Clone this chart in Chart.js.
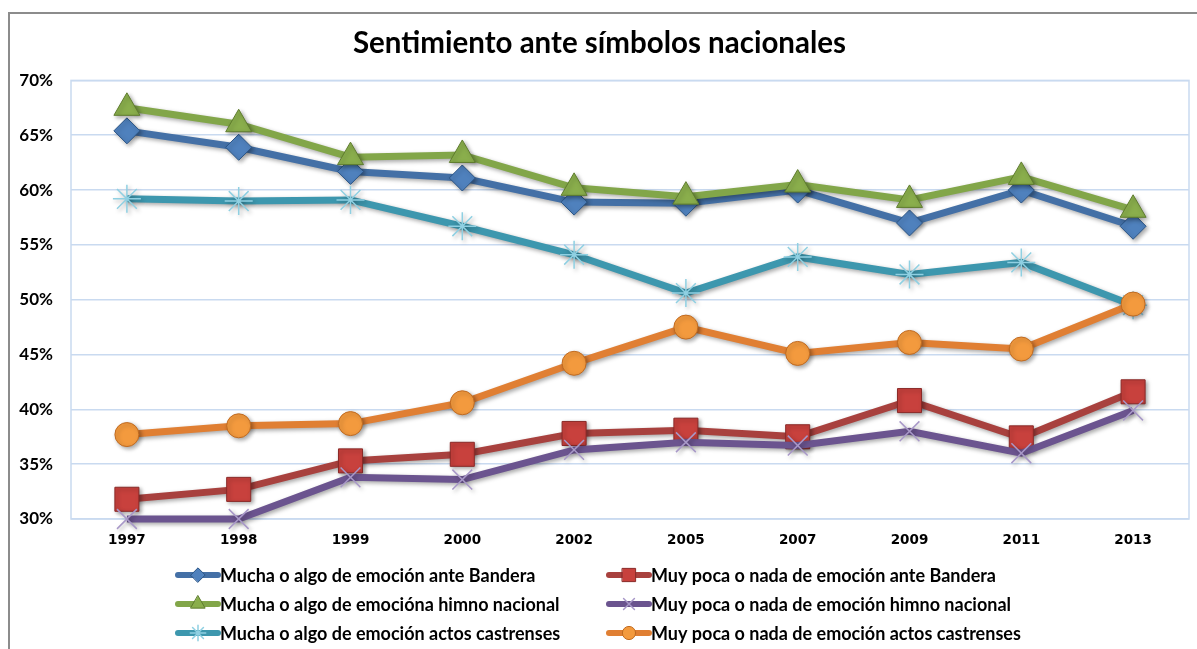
<!DOCTYPE html>
<html><head><meta charset="utf-8">
<script src="https://cdn.jsdelivr.net/npm/chart.js@4.4.1/dist/chart.umd.min.js"></script>
<style>
html,body{margin:0;padding:0;background:#fff;}
#wrap{position:relative;width:1197px;height:649px;overflow:hidden;}
#frame{position:absolute;left:8px;top:12px;width:1300px;height:800px;border-left:2px solid #8c8c8c;border-top:2px solid #8c8c8c;}
canvas{position:absolute;left:0;top:0;}
</style></head><body>
<div id="wrap"><div id="frame"></div><canvas id="c" width="1207" height="649"></canvas></div>
<script>
const years = ['1997','1998','1999','2000','2002','2005','2007','2009','2011','2013'];
const banderaMucha     = [65.4, 63.9, 61.7, 61.1, 58.9, 58.8, 60.0, 57.0, 60.0, 56.7];
const banderaPoca      = [31.8, 32.7, 35.3, 35.9, 37.8, 38.1, 37.5, 40.8, 37.4, 41.6];
const himnoMucha       = [67.5, 66.0, 63.0, 63.2, 60.2, 59.4, 60.5, 59.1, 61.2, 58.2];
const himnoPoca        = [30.0, 30.0, 33.8, 33.6, 36.3, 37.0, 36.7, 38.0, 36.0, 39.9];
const castrensesMucha  = [59.2, 59.0, 59.1, 56.7, 54.1, 50.6, 53.9, 52.3, 53.4, 49.5];
const castrensesPoca   = [37.7, 38.5, 38.7, 40.6, 44.2, 47.5, 45.1, 46.1, 45.5, 49.6];
const seriesLabels = [
  'Mucha o algo de emoción ante Bandera',
  'Muy poca o nada de emoción ante Bandera',
  'Mucha o algo de emocióna himno nacional',
  'Muy poca o nada de emoción himno nacional',
  'Mucha o algo de emoción actos castrenses',
  'Muy poca o nada de emoción actos castrenses'
];
const yTicks = [30, 35, 40, 45, 50, 55, 60, 65, 70];

function ds(label, data, line, style, radius, bg, border, bw, order) {
  return {
    label, data, borderColor: line, backgroundColor: line, borderWidth: 7,
    pointStyle: style, pointRadius: radius, pointHoverRadius: radius,
    pointBackgroundColor: bg, pointBorderColor: border, pointBorderWidth: bw,
    tension: 0, fill: false, clip: false, order
  };
}

const datasets = [
  ds(seriesLabels[0], banderaMucha, '#4470a6', 'rectRot', 13, '#4f81bd', '#2b5586', 1, 6),
  ds(seriesLabels[1], banderaPoca, '#a8413e', 'rect', 17, '#c8413d', '#8a2a28', 1, 5),
  ds(seriesLabels[2], himnoMucha, '#82a649', 'triangle', 15, '#8aae4c', '#5f7d2e', 1, 4),
  ds(seriesLabels[3], himnoPoca, '#6b548f', 'crossRot', 14, 'rgba(0,0,0,0)', '#a898c8', 1.5, 3),
  ds(seriesLabels[4], castrensesMucha, '#3d97ae', 'star', 14, 'rgba(0,0,0,0)', '#8fd0e2', 1.5, 2),
  ds(seriesLabels[5], castrensesPoca, '#e07f33', 'circle', 12, '#f39a3e', '#c06a20', 1, 1)
];

const gridColor = '#c9daf0';

const shadowPlugin = {
  id: 'shadow',
  beforeDatasetDraw(chart) {
    const ctx = chart.ctx; ctx.save();
    ctx.shadowColor = 'rgba(0,0,0,0.35)'; ctx.shadowBlur = 4; ctx.shadowOffsetX = 2; ctx.shadowOffsetY = 2;
  },
  afterDatasetDraw(chart) { chart.ctx.restore(); }
};

const framePlugin = {
  id: 'frameArea',
  beforeDatasetsDraw(chart) {
    const {ctx, chartArea: a} = chart;
    ctx.save(); ctx.strokeStyle = gridColor; ctx.lineWidth = 1.5;
    ctx.strokeRect(a.left, a.top, a.right - a.left, a.bottom - a.top);
    ctx.restore();
  }
};

const legendPlugin = {
  id: 'gridLegend',
  afterDraw(chart) {
    const ctx = chart.ctx;
    chart.data.datasets.forEach((d, i) => {
      const col = i % 2, row = Math.floor(i / 2);
      const x0 = col ? 607 : 176;
      const y = 575 + row * 29;
      ctx.save();
      ctx.strokeStyle = d.borderColor; ctx.lineWidth = 6; ctx.lineCap = 'round';
      ctx.beginPath(); ctx.moveTo(x0 + 2, y); ctx.lineTo(x0 + 42, y); ctx.stroke();
      ctx.fillStyle = d.pointBackgroundColor; ctx.strokeStyle = d.pointBorderColor;
      ctx.lineWidth = d.pointBorderWidth;
      Chart.helpers.drawPoint(ctx, {pointStyle: d.pointStyle, radius: d.pointRadius * 0.55, rotation: 0, borderWidth: d.pointBorderWidth}, x0 + 22, y);
      ctx.fillStyle = '#000'; ctx.font = 'bold 18px Lato'; ctx.textBaseline = 'middle'; ctx.textAlign = 'left';
      ctx.fillText(d.label, x0 + 44, y + 1);
      ctx.restore();
    });
  }
};

new Chart(document.getElementById('c'), {
  type: 'line',
  data: { labels: years, datasets },
  options: {
    responsive: false, animation: false, devicePixelRatio: 1,
    layout: { padding: { left: 0, right: 8, top: 0, bottom: 0 } },
    plugins: {
      legend: { display: false },
      tooltip: { enabled: false },
      title: { display: true, text: 'Sentimiento ante símbolos nacionales', color: '#000',
        font: { family: 'Lato', size: 29.5, weight: 'bold' }, padding: { top: 26, bottom: 19 } }
    },
    scales: {
      x: {
        offset: true,
        grid: { display: false, drawTicks: false },
        border: { display: false },
        ticks: { color: '#000', font: { family: 'DejaVu Sans', size: 13.5, weight: 'bold' }, padding: 13, maxRotation: 0, autoSkip: false },
        afterFit: s => { s.height = 130; s.paddingLeft = 0; s.paddingRight = 0; }
      },
      y: {
        min: yTicks[0], max: yTicks[yTicks.length - 1],
        afterBuildTicks: s => { s.ticks = yTicks.map(v => ({ value: v })); },
        grid: { color: gridColor, lineWidth: 1.5, drawTicks: false },
        border: { display: false },
        ticks: { color: '#000', font: { family: 'Lato', size: 17, weight: 'bold' }, padding: 18, callback: v => v + '%' },
        afterFit: s => { s.width = 71; s.paddingTop = 0; s.paddingBottom = 0; }
      }
    }
  },
  plugins: [shadowPlugin, framePlugin, legendPlugin]
});
</script>
</body></html>
